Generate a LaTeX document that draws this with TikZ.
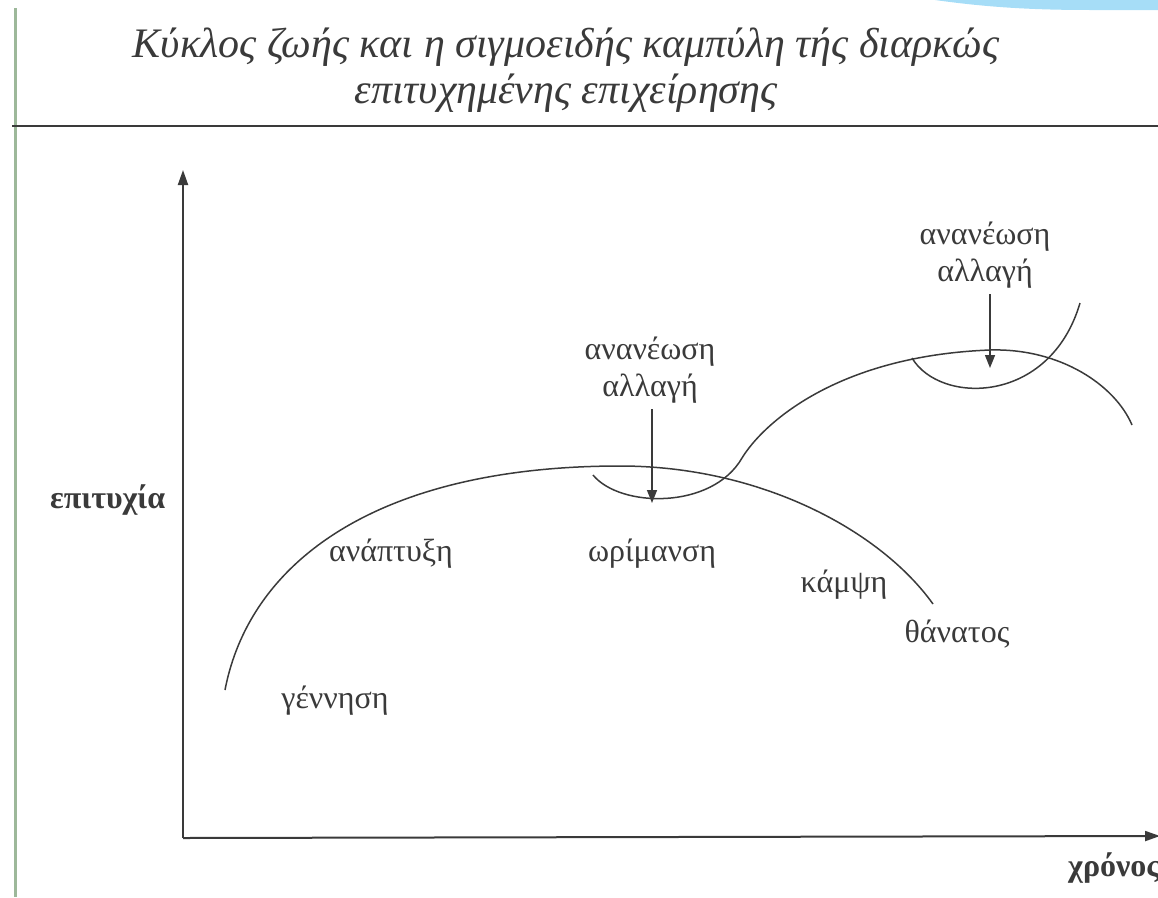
\documentclass[tikz,border=0pt]{standalone}
\usepackage{fontspec}
\setmainfont{Liberation Serif}
\usetikzlibrary{arrows.meta,positioning}
\definecolor{inkgray}{HTML}{3A3A3A}
\definecolor{edgegreen}{HTML}{9DB89A}
\definecolor{skyblue}{HTML}{A6DDF7}

\begin{document}
\begin{tikzpicture}[x=1pt,y=-1pt,
  curve/.style={draw=inkgray,line width=1.5pt},
  axis/.style={-{Triangle[length=15pt,width=10pt]},line width=2pt,draw=inkgray},
  arrow/.style={-{Triangle[length=13pt,width=10pt]},line width=1.5pt,draw=inkgray},
  phase/.style={font=\fontsize{32}{37}\selectfont,text=inkgray,inner sep=0pt,anchor=base},
  note/.style={font=\fontsize{32}{37}\selectfont,text=inkgray,inner sep=0pt,align=center},
  axlabel/.style={font=\bfseries\fontsize{32}{37}\selectfont,text=inkgray,inner sep=0pt,anchor=base west},
  heading/.style={font=\itshape\fontsize{42}{46}\selectfont,text=inkgray,inner sep=0pt,align=center}
]
\useasboundingbox (0,0) rectangle (1158,897);
% page frame
\fill[skyblue] (935,0) .. controls (985,7) and (1030,10) .. (1090,10) -- (1158,10) -- (1158,0) -- cycle;
\draw[edgegreen,line width=3pt] (15,8) -- (15,897);
\node[heading] (title) at (566,70) {Κύκλος ζωής και η σιγμοειδής καμπύλη τής διαρκώς\\επιτυχημένης επιχείρησης};
\draw[inkgray,line width=2pt] (12,126) -- (1158,126);

% axes
\coordinate (origin) at (183,838);
\coordinate (ytop) at (183,170);
\coordinate (xend) at (1160,836);
\draw[axis] (origin) -- (ytop);
\draw[axis] (origin) -- (xend);
\node[axlabel] (success) at (50,508) {επιτυχία};
\node[axlabel] (time) at (1068,876) {χρόνος};

% first life cycle
\draw[curve] (225,690) .. controls (250,560) and (380,466) .. (620,466)
  .. controls (760,466) and (880,530) .. (933,604);
% renewal and second cycle
\draw[curve] (593,475) .. controls (620,508) and (712,510) .. (742,458)
  .. controls (762,425) and (835,356) .. (990,350)
  .. controls (1060,348) and (1115,385) .. (1132,425);
\draw[curve] (912,358) .. controls (940,405) and (1050,405) .. (1080,303);

% phase labels
\node[phase] (growth) at (391,561) {ανάπτυξη};
\node[phase] (birth) at (335,708) {γέννηση};
\node[phase] (maturity) at (652,561) {ωρίμανση};
\node[phase] (decline) at (844,592) {κάμψη};
\node[phase] (death) at (957,642) {θάνατος};

% renewal arrows
\node[note] (renewA) at (650,370) {ανανέωση\\αλλαγή};
\node[note] (renewB) at (985,255) {ανανέωση\\αλλαγή};
\coordinate (dipA) at (652,503);
\coordinate (dipB) at (990,368);
\draw[arrow] (dipA |- renewA.south) ++(0,6) -- (dipA);
\draw[arrow] (dipB |- renewB.south) ++(0,6) -- (dipB);
\end{tikzpicture}
\end{document}
